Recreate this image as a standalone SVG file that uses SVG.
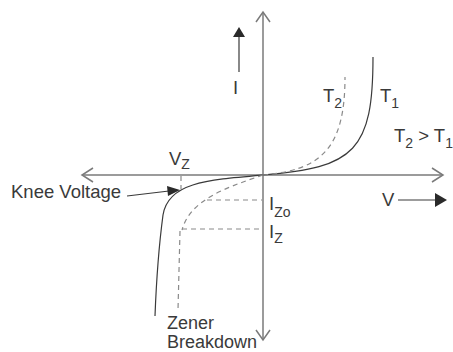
<svg xmlns="http://www.w3.org/2000/svg" width="453" height="352" viewBox="0 0 453 352">
<style>
.ax{stroke:#7a7a7a;stroke-width:1.5;fill:none}
.cv{stroke:#3a3a3a;stroke-width:1.2;fill:none}
.ds{stroke:#8a8a8a;stroke-width:1.2;fill:none;stroke-dasharray:5,4}
.ar{stroke:#3a3a3a;stroke-width:1.2;fill:none}
.hd{fill:#2a2a2a;stroke:none}
text{font-family:"Liberation Sans",Arial,sans-serif;font-size:18.5px;fill:#3a3a3a}
.sb{font-size:14px}
.zb{font-size:18px}
</style>
<rect width="453" height="352" fill="#ffffff"/>
<g id="connectors">
<g id="axes">
<line class="ax" x1="263" y1="12" x2="263" y2="340"/>
<polyline class="ax" points="256,22 263,12 270,22"/>
<polyline class="ax" points="256,330 263,340 270,330"/>
<line class="ax" x1="82" y1="175" x2="443" y2="175"/>
<polyline class="ax" points="93,168 82,175 93,182"/>
<polyline class="ax" points="432,168 443,175 432,182"/>
</g>
<g id="curves">
<path class="cv" d="M263,175 C355,168 373,150 373,57"/>
<path class="ds" d="M263,175 C320,170 345,150 345,77"/>
<path class="cv" d="M263,175 C205,180 168,183 163,215 C159,245 156,290 155,316"/>
<path class="ds" d="M263,175 C225,188 190,200 182,230"/>
<line class="ds" x1="181" y1="176" x2="181" y2="189"/>
<line class="ds" x1="180" y1="231" x2="178" y2="310"/>
<line class="ds" x1="207" y1="200" x2="262" y2="200"/>
<line class="ds" x1="182" y1="229" x2="262" y2="229"/>
</g>
<g id="arrows">
<line class="ar" x1="239" y1="72" x2="239" y2="36"/>
<polygon class="hd" points="239,27 245,37 233,37"/>
<line class="ar" x1="127" y1="196" x2="169" y2="191"/>
<polygon class="hd" points="180,190 167,186 168,196"/>
<line class="ar" x1="398" y1="200" x2="436" y2="200"/>
<polygon class="hd" points="447,200 435,193 435,207"/>
</g>
</g>
<g id="labels">
<text x="233" y="94">I</text>
<text x="323" y="102">T<tspan class="sb" dy="6">2</tspan></text>
<text x="380" y="102">T<tspan class="sb" dy="6">1</tspan></text>
<text x="394" y="142">T<tspan class="sb" dy="6">2</tspan><tspan dy="-6"> &gt; T</tspan><tspan class="sb" dy="6">1</tspan></text>
<text x="169" y="165">V<tspan class="sb" dy="4">Z</tspan></text>
<text x="11" y="198">Knee Voltage</text>
<text x="269" y="210">I<tspan class="sb" dy="7">Zo</tspan></text>
<text x="269" y="238">I<tspan class="sb" dy="5">Z</tspan></text>
<text x="382" y="206">V</text>
<text class="zb" x="167" y="329">Zener</text>
<text class="zb" x="167" y="348">Breakdown</text>
</g>
</svg>
